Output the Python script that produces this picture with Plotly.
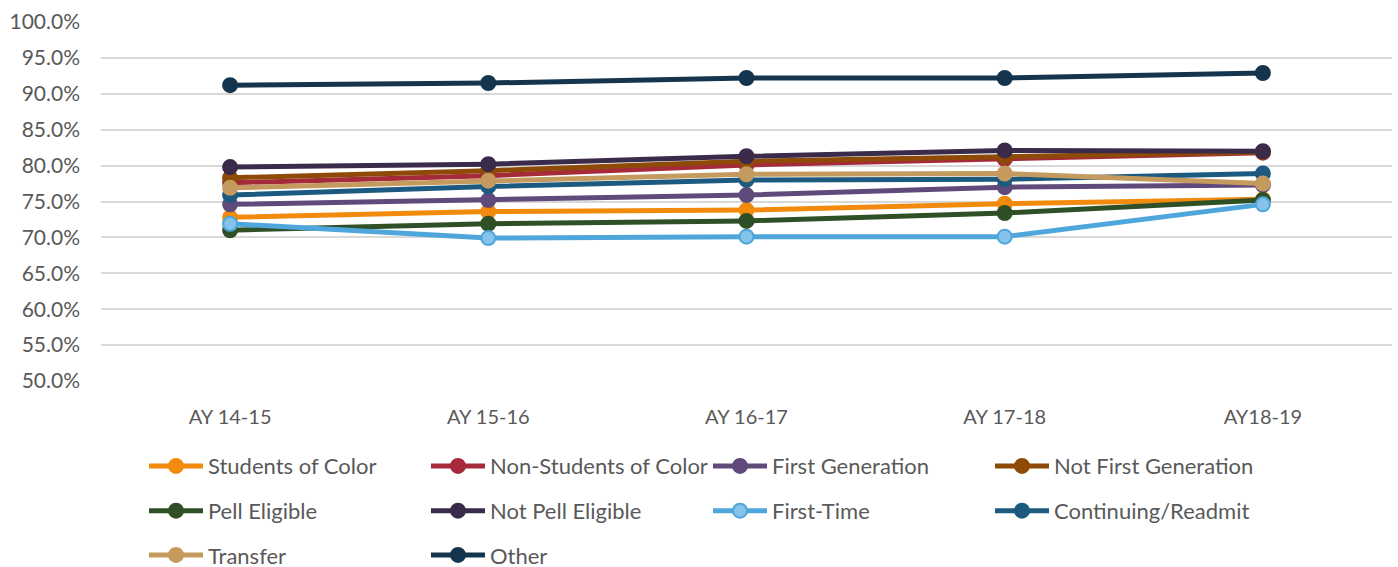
import plotly.graph_objects as go

years = ["AY 14-15", "AY 15-16", "AY 16-17", "AY 17-18", "AY18-19"]

students_of_color = [72.8, 73.6, 73.8, 74.7, 75.3]
non_students_of_color = [77.6, 78.6, 80.1, 80.9, 81.8]
first_generation = [74.6, 75.2, 75.9, 77.0, 77.3]
not_first_generation = [78.3, 79.3, 80.6, 81.3, 81.9]
pell_eligible = [71.0, 71.9, 72.3, 73.4, 75.2]
not_pell_eligible = [79.8, 80.2, 81.3, 82.1, 82.0]
first_time = [71.9, 69.9, 70.1, 70.1, 74.6]
continuing_readmit = [75.9, 77.1, 78.0, 78.1, 78.9]
transfer = [76.9, 77.9, 78.8, 78.9, 77.5]
other = [91.2, 91.5, 92.2, 92.2, 92.9]

series = [
    ("Students of Color", students_of_color, "#F28A0E", None, "legend"),
    ("Non-Students of Color", non_students_of_color, "#A52A3A", None, "legend"),
    ("First Generation", first_generation, "#604A7B", None, "legend"),
    ("Not First Generation", not_first_generation, "#8E4B07", None, "legend"),
    ("Pell Eligible", pell_eligible, "#2F5027", None, "legend2"),
    ("Not Pell Eligible", not_pell_eligible, "#3B2B4B", None, "legend2"),
    ("First-Time", first_time, "#4EA6DA", "#85C3EA", "legend2"),
    ("Continuing/Readmit", continuing_readmit, "#1D5A80", None, "legend2"),
    ("Transfer", transfer, "#C49A5E", None, "legend3"),
    ("Other", other, "#14354D", None, "legend3"),
]

fig = go.Figure()
for name, vals, color, fill, leg in series:
    fig.add_trace(go.Scatter(
        x=years, y=vals, name=name, mode="lines+markers",
        line=dict(color=color, width=5),
        marker=dict(size=14, color=fill or color,
                    line=dict(color=color, width=2)),
        legend=leg,
    ))

font = dict(family="Lato, 'Open Sans', sans-serif", size=22, color="#595959")
leg_common = dict(orientation="h", xanchor="left", yanchor="top",
                  xref="container", yref="container",
                  font=font, entrywidth=213, entrywidthmode="pixels",
                  itemwidth=54, bgcolor="rgba(0,0,0,0)", traceorder="normal")

fig.update_layout(
    width=1398, height=567,
    margin=dict(l=101, r=6, t=22, b=186),
    paper_bgcolor="white", plot_bgcolor="white",
    font=font,
    xaxis=dict(showgrid=False, showline=False, zeroline=False,
               range=[-0.5, 4.5],
               tickfont=dict(size=20, color="#595959"),
               ticklabelstandoff=22),
    yaxis=dict(range=[50, 100], dtick=5, tickformat=".1f", ticksuffix="%",
               showgrid=True, gridcolor="#D9D9D9", gridwidth=1.5,
               zeroline=False, showline=False,
               tickfont=dict(size=21, color="#595959"),
               ticklabelstandoff=20),
    legend=dict(x=0.103, y=0.215, **leg_common),
    legend2=dict(x=0.103, y=0.136, **leg_common),
    legend3=dict(x=0.103, y=0.058, **leg_common),
)

fig.write_html("out.html")
